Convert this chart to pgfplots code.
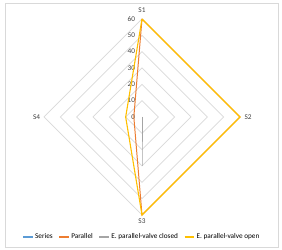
\documentclass[border=0pt]{standalone}
\usepackage{pgfplots}
\pgfplotsset{compat=1.18}
\usepackage{fontspec}
\setmainfont{Carlito}
\definecolor{cSeries}{HTML}{5B9BD5}
\definecolor{cPar}{HTML}{ED7D31}
\definecolor{cClosed}{HTML}{A5A5A5}
\definecolor{cOpen}{HTML}{FFC000}
\definecolor{gridc}{HTML}{D9D9D9}
\begin{document}
\begin{tikzpicture}
\begin{axis}[
 x=1.6333bp, y=1.6333bp,
 xmin=-86.94, xmax=85.72, ymin=-81.43, ymax=71.63,
 hide axis, clip=false,
 legend columns=4,
 legend style={at={(axis cs:0,-73.5)}, anchor=center, draw=none, fill=none,
   font=\fontsize{7.3}{8}\selectfont, inner sep=1pt,
   /tikz/every even column/.append style={column sep=4pt}},
 legend image code/.code={\draw[#1, line width=1.2pt] (0cm,0cm) -- (0.33cm,0cm);},
]
\fill[white] (rel axis cs:0,0) rectangle (rel axis cs:1,1);
\draw[gridc, line width=0.6pt] (axis cs:-83.9,69.8) rectangle (axis cs:83.3,-79.6);
\pgfplotsinvokeforeach{10,20,30,40,50,60}{
  \draw[gridc, line width=0.7pt] (axis cs:0,#1) -- (axis cs:#1,0) -- (axis cs:0,-#1) -- (axis cs:-#1,0) -- cycle;
  \node[anchor=east, font=\fontsize{7.3}{8}\selectfont, text=black!75, inner sep=1pt] at (axis cs:-3.5,#1) {#1};
}
\node[anchor=east, font=\fontsize{7.3}{8}\selectfont, text=black!75, inner sep=1pt] at (axis cs:-3.5,0) {0};
\node[font=\fontsize{7.3}{8}\selectfont, text=black!75] at (axis cs:0,65.5) {S1};
\node[font=\fontsize{7.3}{8}\selectfont, text=black!75] at (axis cs:65,0) {S2};
\node[font=\fontsize{7.3}{8}\selectfont, text=black!75] at (axis cs:0,-63.7) {S3};
\node[font=\fontsize{7.3}{8}\selectfont, text=black!75] at (axis cs:-64.5,0) {S4};
\addplot[color=cSeries, line width=1pt, data cs=polar] coordinates {(90,0) (0,0) (-90,0) (180,0) (90,0)};
\addlegendentry{Series}
\addplot[color=cPar, line width=1pt, data cs=polar] coordinates {(90,60) (0,60) (-90,60) (180,5) (90,60)};
\addlegendentry{Parallel}
\addplot[color=cClosed, line width=0.9pt, data cs=polar] coordinates {(90,0) (0,0) (-90,30) (180,0) (90,0)};
\addlegendentry{E. parallel-valve closed}
\addplot[color=cOpen, line width=1.1pt, data cs=polar] coordinates {(90,60) (0,60) (-90,60) (180,10) (90,60)};
\addlegendentry{E. parallel-valve open}
\end{axis}
\end{tikzpicture}
\end{document}
